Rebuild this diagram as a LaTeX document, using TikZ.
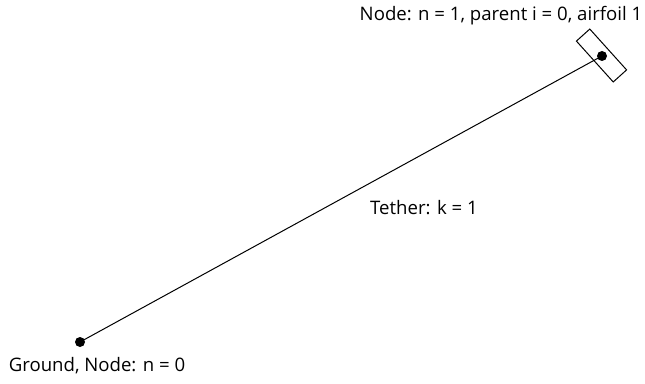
\documentclass[tikz,border=0pt]{standalone}
\usepackage{fontspec}
\setmainfont{Open Sans}
\begin{document}
\begin{tikzpicture}[x=1pt, y=1pt, font=\fontsize{18.6}{21}\selectfont,
    punto/.style={circle, fill=black, inner sep=0pt, minimum size=10pt},
    perfil/.style={draw, line width=1pt, inner sep=0pt, minimum width=55pt, minimum height=18pt}]
        \useasboundingbox (0,0) rectangle (645,383);
        % Perfil (airfoil) del nodo 1
        \node[perfil, rotate=-48] (ala) at (601.5,327.5) {};
        % Nodo 0 (suelo) y nodo 1
        \node[punto] (nodo0) at (80,41) {};
        \node[punto] (nodo1) at (602,327) {};
        % Cable
        \draw[line width=1pt] (nodo0.center) -- (nodo1.center);
        % Etiquetas
        \node (etNodo0) at (97,17) {Ground, Node: n = 0};
        \node (etNodo1) at (501,367) {Node: n = 1, parent i = 0, airfoil 1};
        \node (etCable) at (424,175) {Tether: k = 1};
    \end{tikzpicture}
\end{document}
